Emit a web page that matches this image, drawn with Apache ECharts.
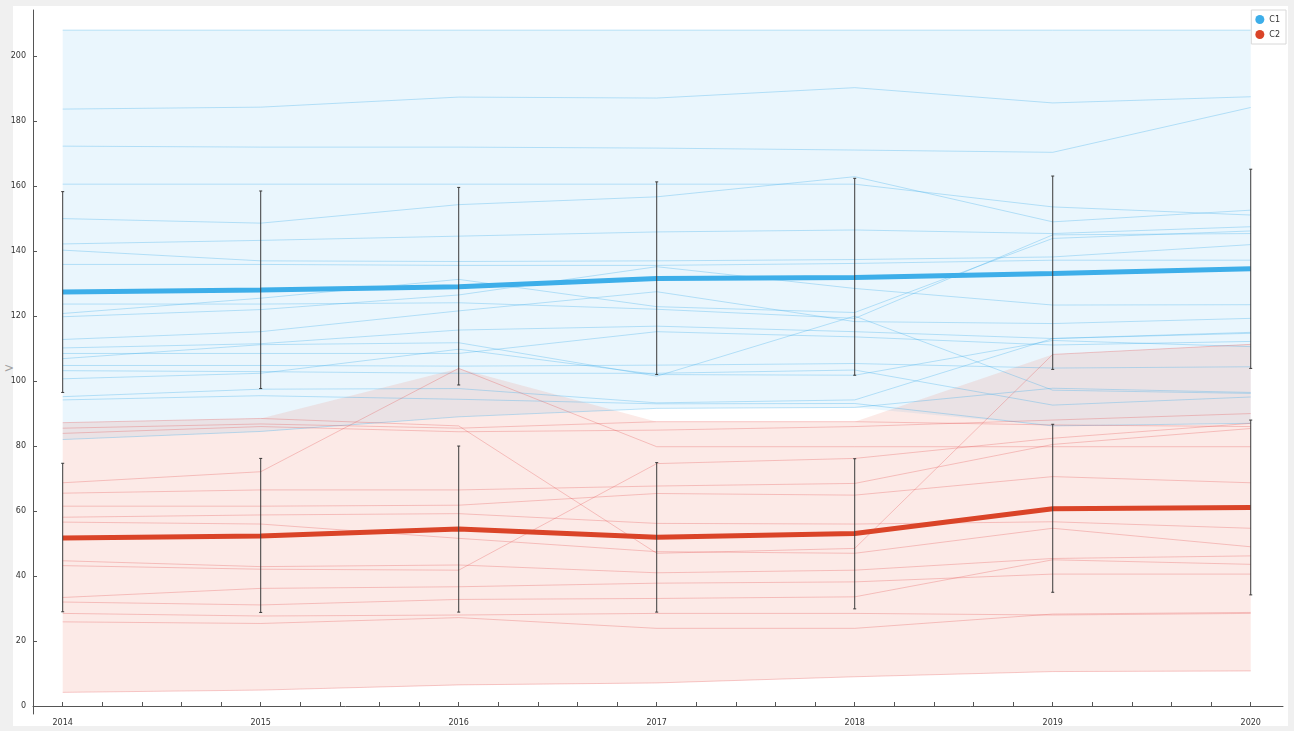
<!DOCTYPE html>
<html>
<head>
<meta charset="utf-8">
<title>C1 / C2</title>
<script src="https://cdn.jsdelivr.net/npm/echarts@6/dist/echarts.min.js"></script>
<style>
	html, body { margin: 0; padding: 0; background: #f0f0f0; overflow: hidden; }
	#frame { position: absolute; left: 13px; top: 6px; width: 1275px; height: 720px; background: #ffffff; }
	#arrow { position: absolute; left: 4px; top: 361px; color: #a0a0a0; font: 12px "DejaVu Sans"; }
	#main { position: absolute; left: 0; top: 0; width: 1294px; height: 731px; }
</style>
</head>
<body>
<div id="frame"></div>
<div id="arrow">&gt;</div>
<div id="main"></div>
<script>
var years = [2014, 2015, 2016, 2017, 2018, 2019, 2020];
var yTicks = [0, 20, 40, 60, 80, 100, 120, 140, 160, 180, 200];
var xTicks = [2014, 2014.2, 2014.4, 2014.6, 2014.8, 2015, 2015.2, 2015.4, 2015.6, 2015.8,
	2016, 2016.2, 2016.4, 2016.6, 2016.8, 2017, 2017.2, 2017.4, 2017.6, 2017.8,
	2018, 2018.2, 2018.4, 2018.6, 2018.8, 2019, 2019.2, 2019.4, 2019.6, 2019.8, 2020];

// mean lines
var c1Mean = [127.4, 128.0, 129.0, 131.6, 131.9, 133.1, 134.6];
var c2Mean = [51.7, 52.3, 54.5, 51.9, 53.1, 60.7, 61.1];

// error bars (low / high)
var c1ErrLow = [96.5, 97.7, 98.8, 102.0, 101.8, 103.6, 103.9];
var c1ErrHigh = [158.3, 158.5, 159.6, 161.3, 162.4, 163.1, 165.2];
var c2ErrLow = [29.0, 28.8, 28.9, 28.9, 29.9, 35.0, 34.2];
var c2ErrHigh = [74.7, 76.2, 80.0, 74.9, 76.1, 86.7, 88.0];

// single members of C1
var c1Lines = [
	[208.0, 208.0, 208.0, 208.0, 208.0, 208.0, 208.0],
	[183.7, 184.3, 187.4, 187.1, 190.3, 185.6, 187.5],
	[172.3, 172.0, 172.0, 171.7, 171.1, 170.4, 184.2],
	[160.6, 160.6, 160.6, 160.6, 160.6, 153.6, 151.1],
	[150.0, 148.6, 154.3, 156.7, 162.9, 149.0, 152.6],
	[142.2, 143.3, 144.6, 145.9, 146.5, 145.4, 147.5],
	[140.3, 137.0, 136.8, 137.0, 137.4, 138.2, 142.0],
	[135.9, 135.9, 135.6, 135.6, 136.2, 137.2, 137.2],
	[120.8, 125.5, 131.3, 122.9, 121.1, 143.9, 146.2],
	[123.7, 123.7, 124.1, 122.1, 119.3, 145.0, 145.4],
	[119.8, 122.0, 126.5, 135.2, 128.5, 123.4, 123.5],
	[112.8, 115.2, 121.6, 127.5, 118.3, 117.7, 119.3],
	[110.2, 111.5, 115.7, 116.9, 115.2, 113.1, 115.0],
	[108.5, 108.5, 108.5, 115.2, 113.6, 111.1, 112.2],
	[106.9, 111.2, 111.8, 101.5, 120.0, 97.2, 96.2],
	[104.8, 104.8, 104.6, 104.9, 105.4, 104.0, 104.4],
	[103.2, 102.9, 102.4, 102.4, 103.4, 92.6, 95.1],
	[100.7, 102.4, 109.8, 102.0, 101.8, 112.5, 110.6],
	[95.2, 97.5, 97.7, 93.3, 94.2, 113.1, 114.7],
	[94.2, 95.5, 94.4, 93.0, 93.1, 86.2, 87.0],
	[82.0, 84.5, 89.0, 91.6, 91.9, 97.8, 96.5]
];

// single members of C2
var c2Lines = [
	[68.7, 72.1, 103.9, 79.8, 79.8, 79.8, 79.8],
	[87.2, 88.5, 86.2, 47.0, 48.5, 108.2, 111.3],
	[83.9, 86.0, 84.4, 84.9, 86.0, 88.0, 90.0],
	[85.5, 86.8, 85.5, 87.5, 87.5, 86.5, 86.0],
	[65.5, 66.5, 66.5, 67.7, 68.5, 80.5, 85.4],
	[61.5, 61.5, 61.8, 65.4, 64.9, 70.6, 68.7],
	[43.2, 42.1, 41.8, 74.6, 76.2, 82.4, 87.0],
	[58.1, 58.8, 59.2, 56.2, 56.0, 56.7, 54.7],
	[56.6, 56.0, 51.6, 47.5, 47.0, 54.7, 49.0],
	[44.7, 42.9, 43.4, 41.0, 41.8, 45.4, 46.2],
	[33.4, 36.2, 36.7, 37.8, 38.2, 40.6, 40.6],
	[32.0, 31.1, 32.8, 33.1, 33.6, 45.0, 43.6],
	[28.5, 27.7, 28.0, 28.5, 28.5, 28.0, 28.5],
	[25.9, 25.4, 27.2, 23.9, 23.9, 28.3, 28.8],
	[4.2, 4.9, 6.5, 7.1, 9.0, 10.6, 10.8]
];

var c1Color = "#3daee9";
var c2Color = "#da4428";

function pairs(vals) {
	var out = [];
	for (var i = 0; i < years.length; i++) {
		out.push([years[i], vals[i]]);
	}
	return out;
}

// band = range of the single members
function bandOf(lines) {
	var lo = [], hi = [];
	for (var i = 0; i < years.length; i++) {
		var mn = Infinity, mx = -Infinity;
		for (var k = 0; k < lines.length; k++) {
			mn = Math.min(mn, lines[k][i]);
			mx = Math.max(mx, lines[k][i]);
		}
		lo.push(mn);
		hi.push(mx);
	}
	return { lo: lo, hi: hi };
}

function bandSeries(lines, fill) {
	var band = bandOf(lines);
	return {
		type: "custom",
		silent: true,
		z: 1,
		data: [[years[0], band.lo[0]]],
		renderItem: function(params, api) {
			var pts = [];
			for (var i = 0; i < years.length; i++) {
				pts.push(api.coord([years[i], band.hi[i]]));
			}
			for (var j = years.length - 1; j >= 0; j--) {
				pts.push(api.coord([years[j], band.lo[j]]));
			}
			return { type: "polygon", shape: { points: pts }, style: { fill: fill } };
		}
	};
}

function errorSeries(lo, hi) {
	var data = [];
	for (var i = 0; i < years.length; i++) {
		data.push([years[i], lo[i], hi[i]]);
	}
	return {
		type: "custom",
		silent: true,
		z: 5,
		data: data,
		encode: { x: 0, y: [1, 2] },
		renderItem: function(params, api) {
			var a = api.coord([api.value(0), api.value(1)]);
			var b = api.coord([api.value(0), api.value(2)]);
			var st = { stroke: "#3a3a3a", lineWidth: 1 };
			return {
				type: "group",
				children: [
					{ type: "line", shape: { x1: a[0], y1: a[1], x2: b[0], y2: b[1] }, style: st },
					{ type: "line", shape: { x1: a[0] - 1.5, y1: a[1], x2: a[0] + 1.5, y2: a[1] }, style: st },
					{ type: "line", shape: { x1: b[0] - 1.5, y1: b[1], x2: b[0] + 1.5, y2: b[1] }, style: st }
				]
			};
		}
	};
}

var series = [];
series.push(bandSeries(c1Lines, "rgba(61,174,233,0.11)"));
series.push(bandSeries(c2Lines, "rgba(228,80,60,0.12)"));
for (var i = 0; i < c1Lines.length; i++) {
	series.push({
		type: "line", silent: true, z: 2, symbol: "none", data: pairs(c1Lines[i]),
		lineStyle: { color: "rgba(61,174,233,0.33)", width: 1 }
	});
}
for (var j = 0; j < c2Lines.length; j++) {
	series.push({
		type: "line", silent: true, z: 2, symbol: "none", data: pairs(c2Lines[j]),
		lineStyle: { color: "rgba(225,70,70,0.28)", width: 1 }
	});
}
series.push({
	name: "C1", type: "line", z: 3, symbol: "none", data: pairs(c1Mean),
	itemStyle: { color: c1Color }, lineStyle: { color: c1Color, width: 5 }
});
series.push({
	name: "C2", type: "line", z: 3, symbol: "none", data: pairs(c2Mean),
	itemStyle: { color: c2Color }, lineStyle: { color: c2Color, width: 5 }
});
series.push(errorSeries(c1ErrLow, c1ErrHigh));
series.push(errorSeries(c2ErrLow, c2ErrHigh));

var chart = echarts.init(document.getElementById("main"));
var option = {
	backgroundColor: "transparent",
	animation: false,
	legend: {
		data: ["C1", "C2"],
		orient: "vertical",
		right: 8,
		top: 10,
		icon: "circle",
		itemWidth: 9,
		itemHeight: 9,
		itemGap: 6,
		padding: [5, 6, 5, 4],
		borderColor: "#d8d8d8",
		borderWidth: 1,
		backgroundColor: "#ffffff",
		textStyle: { fontSize: 8, color: "#333", fontFamily: "DejaVu Sans" }
	},
	grid: { left: 33, right: 11, top: 10, bottom: 17 },
	xAxis: {
		type: "value",
		min: 2013.85,
		max: 2020.163,
		splitLine: { show: false },
		axisLine: { lineStyle: { color: "#555", width: 1 } },
		axisTick: { inside: true, length: 4, customValues: xTicks, lineStyle: { color: "#555" } },
		axisLabel: {
			customValues: years, fontSize: 8, color: "#333", margin: 5, fontFamily: "DejaVu Sans",
			formatter: function(v) { return String(v); }
		}
	},
	yAxis: {
		type: "value",
		min: -2.46,
		max: 214.2,
		splitLine: { show: false },
		axisLine: { show: true, lineStyle: { color: "#555", width: 1 } },
		axisTick: { show: true, inside: true, length: 4, customValues: yTicks, lineStyle: { color: "#555" } },
		axisLabel: {
			customValues: yTicks, fontSize: 8, color: "#333", margin: 7, fontFamily: "DejaVu Sans",
			formatter: function(v) { return String(v); }
		}
	},
	series: series
};
chart.setOption(option);
</script>
</body>
</html>
